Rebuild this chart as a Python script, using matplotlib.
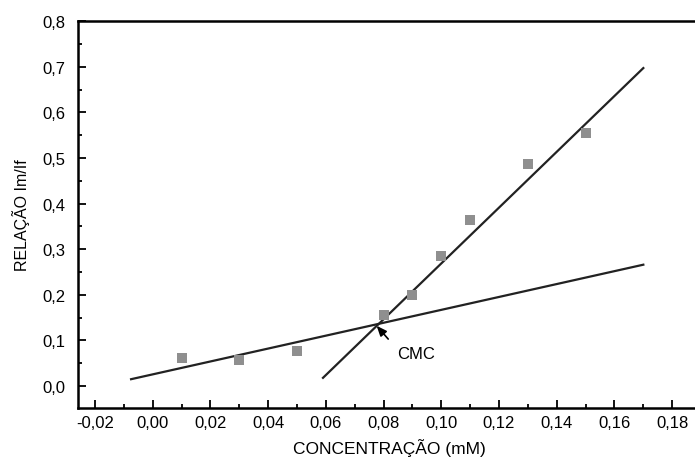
import numpy as np
import matplotlib
matplotlib.use("Agg")
import matplotlib.pyplot as plt
from matplotlib.ticker import MultipleLocator, FuncFormatter

plt.rcParams['font.family'] = ['Liberation Sans', 'DejaVu Sans']

# measured points
conc = [0.01, 0.03, 0.05, 0.08, 0.09, 0.10, 0.11, 0.13, 0.15]
ratio = [0.061, 0.058, 0.077, 0.155, 0.199, 0.284, 0.363, 0.486, 0.554]

# fitted lines (endpoints)
fit_low_x = [-0.0075, 0.17]
fit_low_y = [0.015, 0.266]
fit_high_x = [0.059, 0.17]
fit_high_y = [0.018, 0.697]

cmc_tip = (0.0776, 0.132)
cmc_tail = (0.0816, 0.103)
cmc_text = (0.0847, 0.072)


def comma(v, pos):
    return '{:.2f}'.format(v).replace('.', ',')


def comma1(v, pos):
    return '{:.1f}'.format(v).replace('.', ',')


fig = plt.figure(figsize=(6.95, 4.6), dpi=100)
ax = fig.add_axes([0.1122, 0.111, 0.8965, 0.841])

ax.plot(fit_low_x, fit_low_y, color='#222222', lw=1.6)
ax.plot(fit_high_x, fit_high_y, color='#222222', lw=1.6)
ax.plot(conc, ratio, 's', color='#8f8f8f', markersize=7.5, markeredgewidth=0)

ax.annotate('', xy=cmc_tip, xytext=cmc_tail,
            arrowprops=dict(arrowstyle='-|>,head_length=0.6,head_width=0.25',
                            color='black', lw=1.2, shrinkA=0, shrinkB=0))
ax.text(cmc_text[0], cmc_text[1], 'CMC', fontsize=12, va='center', ha='left')

ax.set_xlim(-0.0259, 0.19)
ax.set_ylim(-0.048, 0.8)
ax.xaxis.set_major_locator(MultipleLocator(0.02))
ax.xaxis.set_minor_locator(MultipleLocator(0.01))
ax.yaxis.set_major_locator(MultipleLocator(0.1))
ax.yaxis.set_minor_locator(MultipleLocator(0.05))
ax.xaxis.set_major_formatter(FuncFormatter(comma))
ax.yaxis.set_major_formatter(FuncFormatter(comma1))
ax.tick_params(which='major', direction='in', length=6, width=1.3, labelsize=12)
ax.tick_params(axis='x', which='major', pad=5)
ax.tick_params(axis='y', which='major', pad=9)
ax.tick_params(which='minor', direction='in', length=3, width=1.3)
ax.tick_params(top=False, right=False)

for s in ax.spines.values():
    s.set_linewidth(1.8)

ax.set_xlabel('CONCENTRAÇÃO (mM)', fontsize=12.5, labelpad=6)
ax.set_ylabel('RELAÇÃO Im/If', fontsize=11.5, labelpad=9)

fig.savefig('out.png', dpi=100)
